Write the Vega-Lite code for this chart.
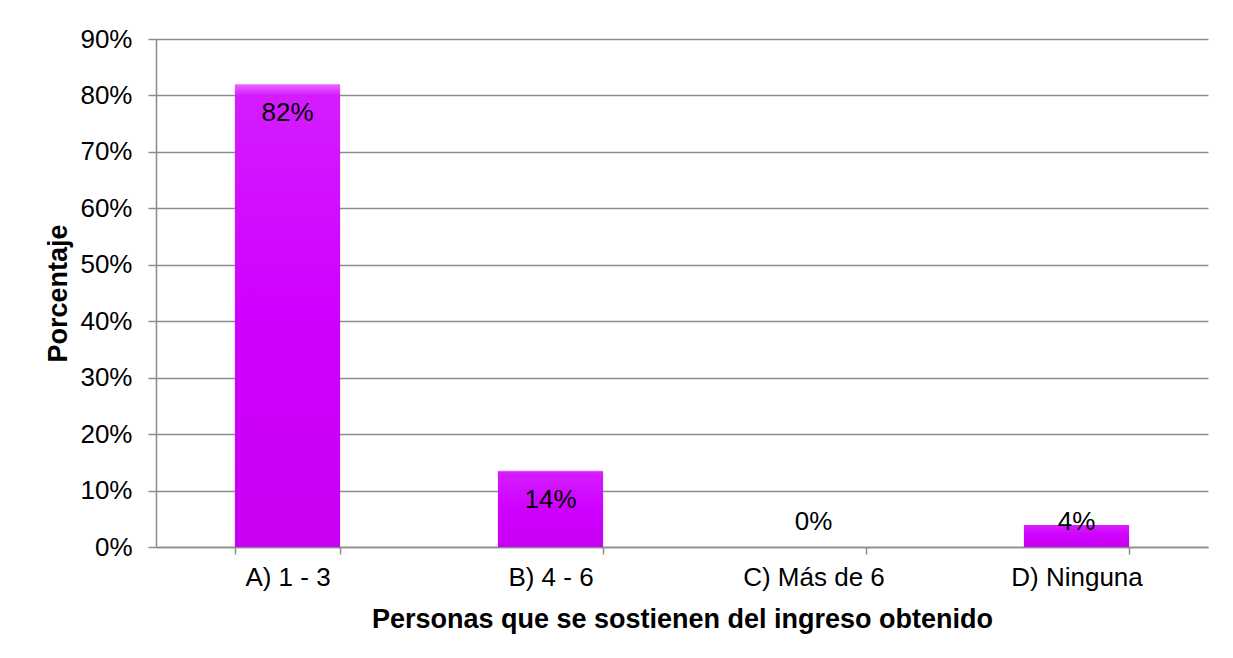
{
  "$schema": "https://vega.github.io/schema/vega-lite/v6.json",
  "width": 1052,
  "height": 508,
  "autosize": {"type": "none"},
  "padding": {"left": 156, "top": 39, "right": 25, "bottom": 111},
  "background": "white",
  "config": {
    "font": "Liberation Sans",
    "view": {"stroke": null},
    "axis": {"labelFont": "Liberation Sans", "titleFont": "Liberation Sans", "labelColor": "black", "titleColor": "black"}
  },
  "data": {
    "values": [
      {"cat": "A) 1 - 3", "pct": 0.82, "label": "82%"},
      {"cat": "B) 4 - 6", "pct": 0.135, "label": "14%"},
      {"cat": "C) Más de 6", "pct": 0.0, "label": "0%"},
      {"cat": "D) Ninguna", "pct": 0.039, "label": "4%"}
    ]
  },
  "encoding": {
    "x": {
      "field": "cat",
      "type": "nominal",
      "sort": null,
      "scale": {"paddingInner": 0.6, "paddingOuter": 0.3},
      "axis": {
        "title": "Personas que se sostienen del ingreso obtenido",
        "titleFontSize": 27,
        "titleFontWeight": "bold",
        "titleY": 80,
        "titleBaseline": "alphabetic",
        "labelAngle": 0,
        "labelFontSize": 26,
        "labelPadding": 10,
        "tickBand": "extent",
        "tickSize": 7,
        "tickColor": "#8c8c8c",
        "tickWidth": 1.5,
        "domainColor": "#8c8c8c",
        "domainWidth": 1.5,
        "grid": false
      }
    }
  },
  "layer": [
    {
      "mark": {
        "type": "bar",
        "color": {
          "gradient": "linear",
          "x1": 0, "y1": 0, "x2": 0, "y2": 1,
          "stops": [
            {"offset": 0, "color": "#ea66ff"},
            {"offset": 0.025, "color": "#d41cff"},
            {"offset": 0.5, "color": "#cf00ff"},
            {"offset": 1, "color": "#c800f2"}
          ]
        }
      },
      "encoding": {
        "y": {
          "field": "pct",
          "type": "quantitative",
          "scale": {"domain": [0, 0.9], "nice": false},
          "axis": {
            "title": "Porcentaje",
            "titleFontSize": 27,
            "titleFontWeight": "bold",
            "titleX": -90,
            "titleY": 254,
            "titleBaseline": "alphabetic",
            "values": [0, 0.1, 0.2, 0.3, 0.4, 0.5, 0.6, 0.7, 0.8, 0.9],
            "format": ".0%",
            "labelFontSize": 26,
            "labelPadding": 16,
            "tickSize": 8,
            "tickColor": "#8c8c8c",
            "tickWidth": 1.5,
            "domainColor": "#8c8c8c",
            "domainWidth": 1.5,
            "gridColor": "#8c8c8c",
            "gridWidth": 1.5
          }
        }
      }
    },
    {
      "transform": [
        {"calculate": "max(datum.pct - 0.0515, 0.0443)", "as": "labelPos"}
      ],
      "mark": {"type": "text", "fontSize": 26, "color": "black", "baseline": "middle", "align": "center"},
      "encoding": {
        "y": {"field": "labelPos", "type": "quantitative", "scale": {"domain": [0, 0.9], "nice": false}},
        "text": {"field": "label"}
      }
    }
  ]
}
